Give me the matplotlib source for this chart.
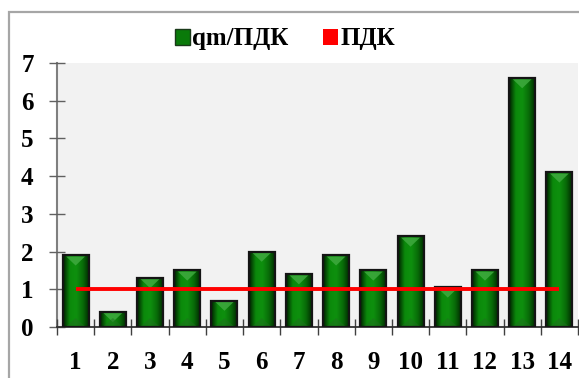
import numpy as np
import matplotlib
matplotlib.use("Agg")
import matplotlib.pyplot as plt
from matplotlib.colors import LinearSegmentedColormap
from matplotlib.patches import Rectangle, Polygon

CATEGORIES = list(range(1, 15))
QM_PDK = [1.9, 0.4, 1.3, 1.5, 0.7, 2.0, 1.4, 1.9, 1.5, 2.4, 1.05, 1.5, 6.6, 4.1]
PDK = [1.0] * 14
Y_TICKS = [0, 1, 2, 3, 4, 5, 6, 7]

FONT = {"family": "Liberation Serif", "weight": "bold"}
W, H = 579, 378

fig = plt.figure(figsize=(W / 100, H / 100), dpi=100)
ax = fig.add_axes([57 / W, 1 - 327 / H, (578 - 57) / W, (327 - 63) / H])
ax.set_facecolor("#f2f2f2")

# outer chart frame (left and top edges visible)
fig.patches.append(Rectangle((9 / W, -0.1), 1.2, 1 - 12 / H + 0.1, transform=fig.transFigure,
                             fill=False, edgecolor="#a6a6a6", lw=1.6))

bars = ax.bar(CATEGORIES, QM_PDK, width=0.7, color="#0a7a0a", zorder=2)

# horizontal shading inside each bar
shade = LinearSegmentedColormap.from_list(
    "shade", ["#001f00", "#0b8a0b", "#0e900e", "#086a08", "#002500"])
grad = np.linspace(0, 1, 64).reshape(1, -1)
for rect in bars:
    x0, w, h = rect.get_x(), rect.get_width(), rect.get_height()
    im = ax.imshow(grad, cmap=shade, aspect="auto", extent=(x0, x0 + w, 0, h),
                   interpolation="bicubic", zorder=2.2)
    im.set_clip_path(rect)
    ax.add_patch(Polygon([(x0 + 0.14 * w, h - 0.03), (x0 + 0.86 * w, h - 0.03),
                          (x0 + 0.5 * w, h - 0.27)], closed=True,
                         facecolor="#3faa3f", edgecolor="none", alpha=0.85, zorder=2.4))
    ax.add_patch(Polygon([(x0 + 0.14 * w, 0.02), (x0 + 0.86 * w, 0.02),
                          (x0 + 0.5 * w, 0.24)], closed=True,
                         facecolor="#1f6f1f", edgecolor="none", alpha=0.5, zorder=2.4))

ax.bar(CATEGORIES, QM_PDK, width=0.7, fill=False, edgecolor="#141414", lw=1.6, zorder=2.6)

ax.plot(CATEGORIES, PDK, color="#ff0000", lw=2.8, solid_capstyle="butt", zorder=4)

ax.set_xlim(0.5, 14.5)
ax.set_ylim(0, 7)

ax.set_yticks(Y_TICKS)
ax.set_yticklabels([str(t) for t in Y_TICKS], fontdict=FONT, fontsize=18)
ax.set_xticks(CATEGORIES)
ax.set_xticklabels([str(c) for c in CATEGORIES], fontdict=FONT, fontsize=18)
ax.set_xticks(np.arange(0.5, 15, 1.0), minor=True)

ax.tick_params(axis="y", direction="inout", length=11.5, width=1.0, color="#606060", pad=11)
ax.tick_params(axis="x", which="major", length=0, pad=17)
ax.tick_params(axis="x", which="minor", direction="inout", length=11, width=1.0, color="#404040")

for s in ("top", "right"):
    ax.spines[s].set_visible(False)
ax.spines["left"].set_color("#7f7f7f")
ax.spines["left"].set_linewidth(1.5)
ax.spines["bottom"].set_color("#303030")
ax.spines["bottom"].set_linewidth(1.3)
ax.spines["left"].set_zorder(1)

handles = [Rectangle((0, 0), 1, 1, facecolor="#0a7a0a", edgecolor="#1a3a1a", lw=1.0),
           Rectangle((0, 0), 1, 1, facecolor="#ff0000", edgecolor="none")]
fig.legend(handles, ["qm/ПДК", "ПДК"], loc="center", bbox_to_anchor=(285 / W, 1 - 39 / H),
           ncol=2, frameon=False, handlelength=0.6, handleheight=0.6, handletextpad=0.1,
           columnspacing=1.4, prop={"family": "Liberation Serif", "weight": "bold", "size": 18})

fig.savefig("out.png", dpi=100)
